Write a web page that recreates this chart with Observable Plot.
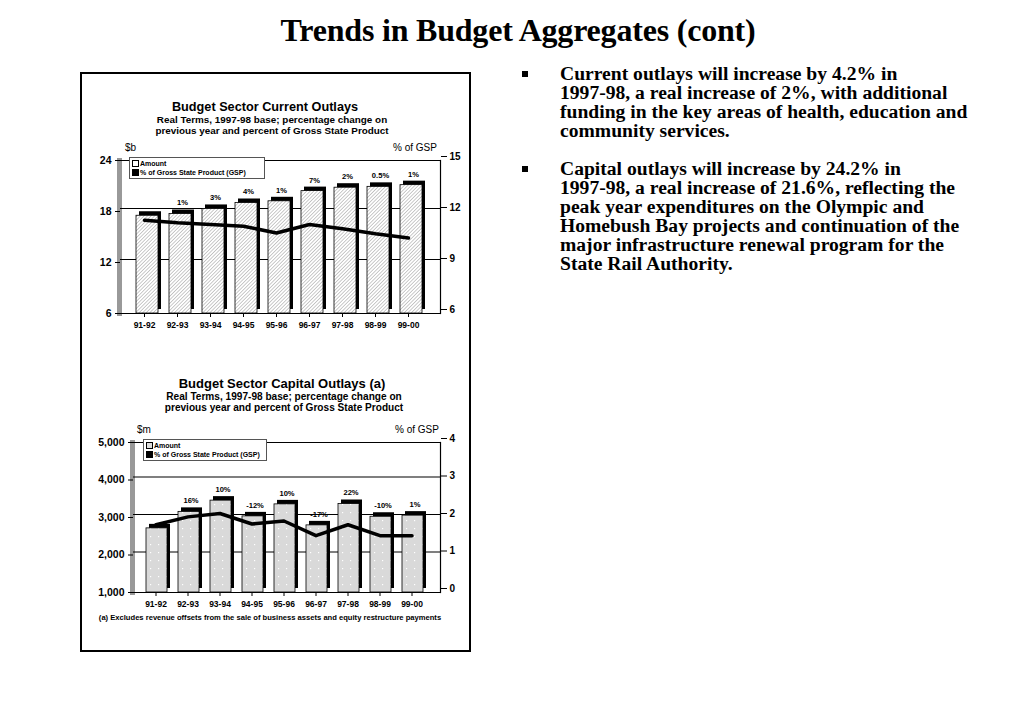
<!DOCTYPE html>
<html><head><meta charset="utf-8">
<script src="https://cdn.jsdelivr.net/npm/d3@7"></script>
<script src="https://cdn.jsdelivr.net/npm/@observablehq/plot@0.6"></script>
<style>
body{margin:0;width:1023px;height:708px;position:relative;background:#fff;font-family:"Liberation Sans",Arial,sans-serif;overflow:hidden}
.abs{position:absolute}
#title{left:0;width:1036px;top:12px;text-align:center;font:bold 32px "Liberation Serif",serif;letter-spacing:-0.2px}
#box{left:80px;top:72px;width:387px;height:576px;border:2px solid #000}
.ct{font-weight:bold;text-align:center;width:380px;line-height:12px}
.cs{font-weight:bold;text-align:center;width:380px;line-height:11px}
.lab{font-size:10px}
.leg{border:1px solid #555;background:#fff;font-size:7px;font-weight:bold;line-height:9px;padding:1px 2px}
.sw{display:inline-block;width:5px;height:5px;border:1px solid #000;vertical-align:-1px;margin-right:1px}
#notes{left:520px;top:64px;width:490px;font:bold 19.6px/19px "Liberation Serif",serif}
.b{position:relative;padding-left:40px;margin-bottom:19px}
.b:before{content:"";position:absolute;left:2px;top:7px;width:6px;height:6px;background:#000}
</style></head>
<body>
<svg width="0" height="0" style="position:absolute">
<defs>
<pattern id="hatch" width="2.5" height="2.5" patternUnits="userSpaceOnUse" patternTransform="rotate(45)">
<rect width="2.5" height="2.5" fill="#fff"/><line x1="0" y1="0" x2="0" y2="2.5" stroke="#8a8a8a" stroke-width="0.9"/>
</pattern>
<pattern id="dots" width="8" height="8" patternUnits="userSpaceOnUse">
<rect width="8" height="8" fill="#d9d9d9"/><rect x="3" y="4" width="1.2" height="1.2" fill="#fff"/>
</pattern>
</defs></svg>
<div id="title" class="abs">Trends in Budget Aggregates (cont)</div>
<div id="box" class="abs"></div>

<div class="abs ct" style="left:75px;top:101px;font-size:12.7px">Budget Sector Current Outlays</div>
<div class="abs cs" style="left:82px;top:114px;font-size:9.9px">Real Terms, 1997-98 base; percentage change on<br>previous year and percent of Gross State Product</div>
<div class="abs lab" style="left:125px;top:142px">$b</div>
<div class="abs lab" style="left:393px;top:142px">% of GSP</div>
<div id="c1" class="abs" style="left:82px;top:140px"></div>
<div class="abs leg" style="left:129px;top:157px;width:130px">
<div><span class="sw" style="background:#fff"></span>Amount</div>
<div><span class="sw" style="background:#000"></span>% of Gross State Product (GSP)</div></div>

<div class="abs ct" style="left:92px;top:378px;font-size:13px">Budget Sector Capital Outlays (a)</div>
<div class="abs cs" style="left:94px;top:391px;font-size:10.1px">Real Terms, 1997-98 base; percentage change on<br>previous year and percent of Gross State Product</div>
<div class="abs lab" style="left:137px;top:424px">$m</div>
<div class="abs lab" style="left:395px;top:424px">% of GSP</div>
<div id="c2" class="abs" style="left:82px;top:420px"></div>
<div class="abs leg" style="left:143px;top:439px;width:118px">
<div><span class="sw" style="background:#ddd"></span>Amount</div>
<div><span class="sw" style="background:#000"></span>% of Gross State Product (GSP)</div></div>
<div class="abs" style="left:80px;top:613px;width:380px;text-align:center;font-size:7.6px;font-weight:bold">(a) Excludes revenue offsets from the sale of business assets and equity restructure payments</div>

<div id="notes" class="abs">
<div class="b">Current outlays will increase by 4.2% in<br>1997-98, a real increase of 2%, with additional<br>funding in the key areas of health, education and<br>community services.</div>
<div class="b">Capital outlays will increase by 24.2% in<br>1997-98, a real increase of 21.6%, reflecting the<br>peak year expenditures on the Olympic and<br>Homebush Bay projects and continuation of the<br>major infrastructure renewal program for the<br>State Rail Authority.</div>
</div>

<script>
const years = ["91-92","92-93","93-94","94-95","95-96","96-97","97-98","98-99","99-00"];
// Current outlays ($b), % change labels, % of GSP
const currentAmount = [17.5, 17.7, 18.3, 19.0, 19.2, 20.4, 20.8, 20.9, 21.1];
const currentChange = ["", "1%", "3%", "4%", "1%", "7%", "2%", "0.5%", "1%"];
const currentGsp = [11.25, 11.1, 11.0, 10.9, 10.5, 11.0, 10.75, 10.45, 10.2];
const currentLeftTicks = [6, 12, 18, 24];
const currentRightTicks = [6, 9, 12, 15];
// Capital outlays ($m)
const capitalAmount = [2710, 3150, 3450, 3030, 3350, 2790, 3360, 3020, 3050];
const capitalChange = ["", "16%", "10%", "-12%", "10%", "-17%", "22%", "-10%", "1%"];
const capitalGsp = [1.70, 1.91, 2.0, 1.72, 1.80, 1.41, 1.70, 1.41, 1.41];
const capitalLeftTicks = [1000, 2000, 3000, 4000, 5000];
const capitalRightTicks = [0, 1, 2, 3, 4];

function chart({amount, change, gsp, leftTicks, rightTicks, fill, marginLeft, marginTop, marginBottom, insetRight, padding, barShift, leftFmt, grid}) {
  const lmin = d3.min(leftTicks), lmax = d3.max(leftTicks);
  const rmin = d3.min(rightTicks), rmax = d3.max(rightTicks);
  const toLeft = v => lmin + (v - rmin) / (rmax - rmin) * (lmax - lmin);
  const fromLeft = v => rmin + (v - lmin) / (lmax - lmin) * (rmax - rmin);
  const data = years.map((y, i) => ({year: y, amount: amount[i], change: change[i], gsp: toLeft(gsp[i])}));
  return Plot.plot({
    width: 386, height: 196,
    marginLeft, marginRight: 28, marginTop, marginBottom,
    insetRight,
    style: {fontFamily: "Liberation Sans, Arial, sans-serif", fontWeight: "bold", fontSize: "9px", overflow: "visible", background: "transparent"},
    x: {domain: years, padding, label: null},
    y: {domain: [lmin, lmax], label: null},
    marks: [
      Plot.frame({anchor: "left", stroke: "#999", strokeWidth: 5, dx: -1}),
      Plot.ruleY(grid, {stroke: "#000", strokeWidth: 1.2, dy: -3}),
      Plot.ruleY([lmax], {stroke: "#000", strokeWidth: 1.2}),
      Plot.ruleY([lmin], {stroke: "#000", strokeWidth: 1.2}),
      Plot.frame({anchor: "right", stroke: "#000", strokeWidth: 1.2}),
      Plot.barY(data, {x: "year", y1: lmin, y2: "amount", fill: "#000", dx: barShift + 3, dy: -4}),
      Plot.barY(data, {x: "year", y1: lmin, y2: "amount", fill, stroke: "#000", strokeWidth: 0.8, dx: barShift}),
      Plot.lineY(data, {x: "year", y: "gsp", stroke: "#000", strokeWidth: 3.5, dy: -4}),
      Plot.text(data, {x: "year", y: "amount", text: "change", dy: -11, dx: barShift + 2, fontSize: 7.6}),
      Plot.axisY({ticks: leftTicks, tickFormat: leftFmt, tickSize: 5, fontSize: 10.5, label: null}),
      Plot.axisY({anchor: "right", ticks: rightTicks.map(toLeft), tickFormat: d => String(Math.round(fromLeft(d))), tickSize: 6, fontSize: 10, label: null, dy: -4}),
      Plot.axisX({tickSize: 4, tickPadding: 4, fontSize: 8.5, label: null})
    ]
  });
}

document.getElementById("c1").append(chart({
  amount: currentAmount, change: currentChange, gsp: currentGsp,
  leftTicks: currentLeftTicks, rightTicks: currentRightTicks, fill: "url(#hatch)",
  marginLeft: 38, marginTop: 20, marginBottom: 23, insetRight: 8, padding: 0.33, barShift: 3,
  leftFmt: d => String(d), grid: [12, 18]
}));
document.getElementById("c2").append(chart({
  amount: capitalAmount, change: capitalChange, gsp: capitalGsp,
  leftTicks: capitalLeftTicks, rightTicks: capitalRightTicks, fill: "url(#dots)",
  marginLeft: 51, marginTop: 22, marginBottom: 24, insetRight: 6, padding: 0.34, barShift: 1,
  leftFmt: d3.format(","), grid: [2000, 3000, 4000]
}));
</script>
</body></html>
